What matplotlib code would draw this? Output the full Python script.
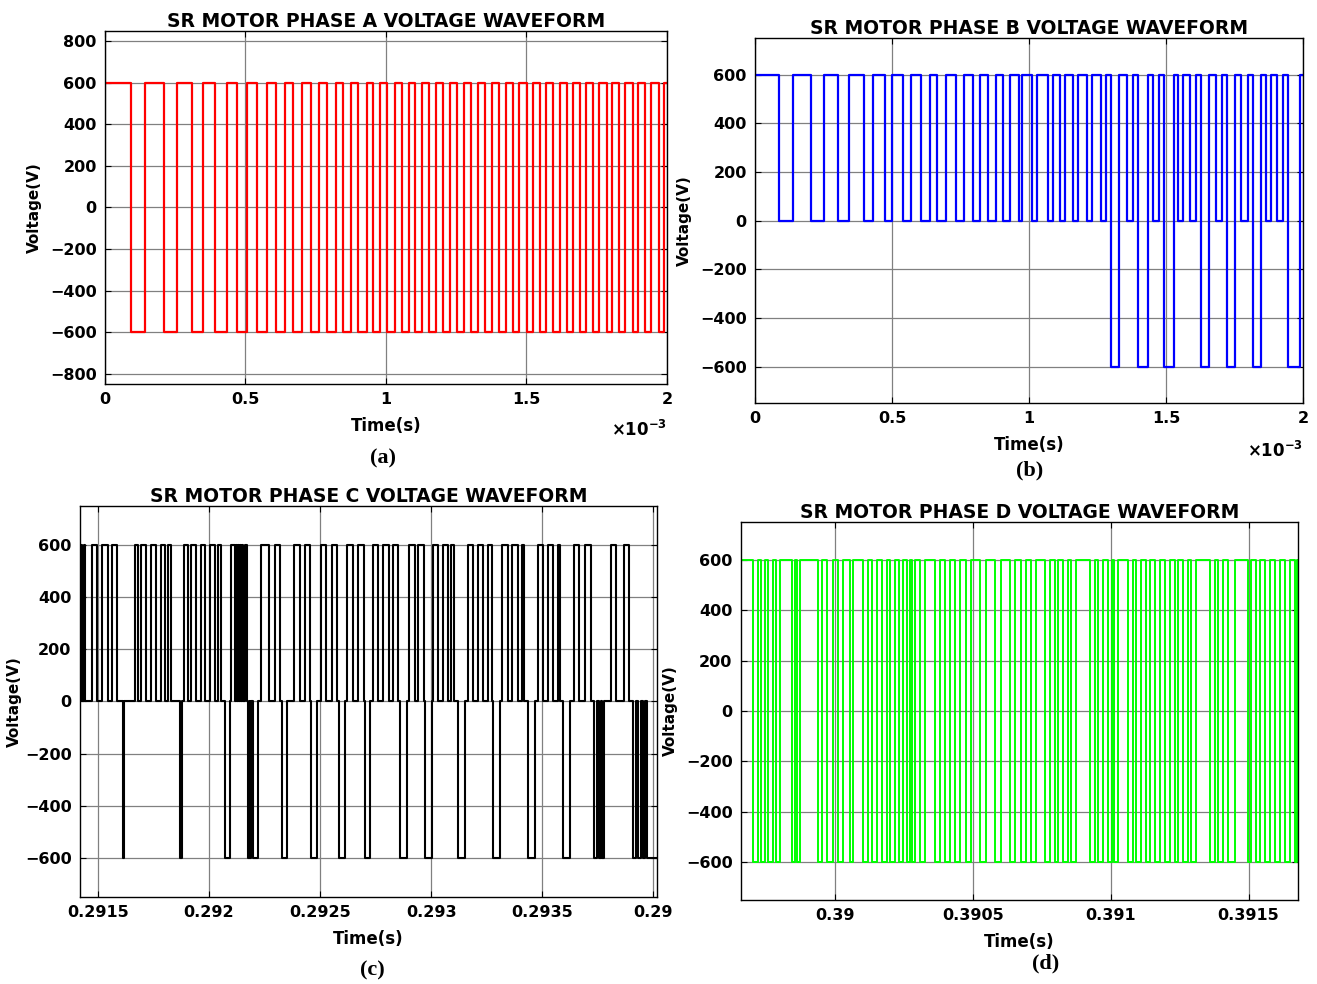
import numpy as np
import matplotlib
matplotlib.use("Agg")
import matplotlib.pyplot as plt

plt.rcParams["font.family"] = "DejaVu Sans"
plt.rcParams["font.weight"] = "bold"

# phase A: bipolar +/-600 V chopping, switching instants in ms
a_fall_ms = [0.093, 0.210, 0.308, 0.391, 0.469, 0.540, 0.607, 0.670, 0.732, 0.789, 0.848, 0.901,
             0.955, 1.004, 1.058, 1.105, 1.153, 1.202, 1.252, 1.302, 1.352, 1.402, 1.451, 1.501,
             1.549, 1.596, 1.644, 1.691, 1.738, 1.786, 1.831, 1.878, 1.923, 1.971]
a_rise_ms = [0.142, 0.255, 0.350, 0.433, 0.504, 0.575, 0.641, 0.702, 0.762, 0.821, 0.874, 0.931,
             0.978, 1.032, 1.081, 1.129, 1.179, 1.228, 1.278, 1.328, 1.378, 1.428, 1.475, 1.523,
             1.570, 1.618, 1.665, 1.712, 1.760, 1.805, 1.852, 1.897, 1.945, 1.990]

# phase B: switching instants in ms and the voltage held after each one
b_time_ms = [0, 0.089, 0.138, 0.206, 0.252, 0.304, 0.343, 0.399, 0.431, 0.474,
             0.500, 0.539, 0.569, 0.607, 0.637, 0.663, 0.696, 0.732, 0.761, 0.794,
             0.820, 0.852, 0.879, 0.905, 0.931, 0.963, 0.976, 1.009, 1.029, 1.068,
             1.087, 1.114, 1.133, 1.162, 1.179, 1.211, 1.231, 1.264, 1.280, 1.299,
             1.329, 1.357, 1.378, 1.396, 1.433, 1.454, 1.476, 1.494, 1.530, 1.545,
             1.563, 1.588, 1.610, 1.626, 1.655, 1.683, 1.704, 1.722, 1.752, 1.772,
             1.799, 1.817, 1.848, 1.866, 1.884, 1.906, 1.927, 1.945, 1.988]
b_volt = [600, 0, 600, 0, 600, 0, 600, 0, 600, 0,
          600, 0, 600, 0, 600, 0, 600, 0, 600, 0,
          600, 0, 600, 0, 600, 0, 600, 0, 600, 0,
          600, 0, 600, 0, 600, 0, 600, 0, 600, -600,
          600, 0, 600, -600, 600, 0, 600, -600, 600, 0,
          600, 0, 600, -600, 600, 0, 600, -600, 600, 0,
          600, -600, 600, 0, 600, 0, 600, -600, 600]

# phase C: switching instants in microseconds after t = 0.2915 s
c_time_us = [-81, -72, -64.5, -57, -27, -4.5, 18, 45, 64.5, 87,
             112.5, 117, 165, 180, 195, 217.5, 237, 262.5, 282, 303,
             315, 330, 367.5, 378, 387, 405, 420, 442.5, 462, 483,
             502.5, 525, 540, 555, 570, 594, 600, 615, 622.5, 627,
             631.5, 636, 640.5, 645, 649.5, 652.5, 660, 672, 675, 682.5,
             685.5, 690, 697.5, 720, 735, 768, 795, 817.5, 828, 852,
             882, 907.5, 930, 955.5, 960, 987, 1002, 1027.5, 1053, 1077,
             1084.5, 1110, 1122, 1147.5, 1170, 1197, 1203, 1224, 1239, 1261.5,
             1284, 1309.5, 1329, 1351.5, 1359, 1389, 1401, 1426.5, 1441.5, 1468.5,
             1471.5, 1501.5, 1509, 1531.5, 1554, 1576.5, 1588.5, 1603.5, 1621.5, 1651.5,
             1666.5, 1689, 1711.5, 1734, 1756.5, 1771.5, 1779, 1809, 1819.5, 1843.5,
             1864.5, 1888.5, 1906.5, 1918.5, 1936.5, 1966.5, 1981.5, 2004, 2026.5, 2049,
             2071.5, 2079, 2094, 2124, 2143.5, 2164.5, 2191.5, 2218.5, 2233.5, 2248.5,
             2254.5, 2266.5, 2269.5, 2278.5, 2311.5, 2334, 2368.5, 2389.5, 2409, 2424,
             2431.5, 2446.5, 2454, 2464.5, 2473.5]
c_volt = [600, 0, 600, 0, 600, 0, 600, 0, 600, 0,
          -600, 0, 600, 0, 600, 0, 600, 0, 600, 0,
          600, 0, -600, 0, 600, 0, 600, 0, 600, 0,
          600, 0, 600, 0, -600, 0, 600, 0, 600, 0,
          600, 0, 600, 0, 600, 0, 600, 0, -600, 0,
          -600, 0, -600, 0, 600, 0, 600, 0, -600, 0,
          600, 0, 600, 0, -600, 0, 600, 0, 600, 0,
          -600, 0, 600, 0, 600, 0, -600, 0, 600, 0,
          600, 0, 600, 0, -600, 0, 600, 0, 600, 0,
          -600, 0, 600, 0, 600, 0, 600, 0, -600, 0,
          600, 0, 600, 0, 600, 0, -600, 0, 600, 0,
          600, 0, 600, 0, -600, 0, 600, 0, 600, 0,
          600, 0, -600, 0, 600, 0, 600, 0, -600, 0,
          -600, 0, -600, 0, 600, 0, 600, 0, -600, 0,
          -600, 0, -600, 0, -600]

# phase D: bipolar chopping, instants in microseconds after t = 0.39 s
d_fall_us = [-301, -272, -244, -214, -159, -140, -62, -30, 10, 53, 101,
             131, 168, 198, 232, 259, 278, 307, 360, 397, 433, 475,
             524, 578, 633, 675, 711, 760, 796, 826, 856, 923,
             953, 989, 1013, 1062, 1092, 1129, 1159, 1195, 1232, 1262, 1292,
             1359, 1389, 1425, 1498, 1528, 1558, 1595, 1631, 1667]
d_rise_us = [-280, -256, -226, -202, -148, -129, -47, -10, 28, 65, 119,
             150, 186, 216, 246, 270, 289, 325, 378, 415, 451, 493,
             548, 602, 651, 693, 729, 778, 808, 844, 874, 941,
             971, 1004, 1026, 1080, 1110, 1141, 1177, 1213, 1244, 1280, 1310,
             1377, 1407, 1450, 1510, 1540, 1577, 1613, 1649, 1677]

a_xticks = [0, 0.5, 1, 1.5, 2]
a_xlabels = ["0", "0.5", "1", "1.5", "2"]
c_xticks = [0.2915, 0.292, 0.2925, 0.293, 0.2935, 0.294]
c_xlabels = ["0.2915", "0.292", "0.2925", "0.293", "0.2935", "0.29"]
d_xticks = [0.39, 0.3905, 0.391, 0.3915]
d_xlabels = ["0.39", "0.3905", "0.391", "0.3915"]


def bipolar(falls, rises, t0, t1, level=600):
    edges = sorted([(t, -level) for t in falls] + [(t, level) for t in rises])
    t = [t0] + [e[0] for e in edges] + [t1]
    v = [level] + [e[1] for e in edges] + [edges[-1][1]]
    return np.array(t), np.array(v)


def style(ax, title, xlim, ylim, yticks, xticks, xlabels):
    ax.set_xlim(xlim)
    ax.set_ylim(ylim)
    ax.set_yticks(yticks)
    ax.set_xticks(xticks)
    ax.set_xticklabels(xlabels)
    ax.grid(True, color="0.5", lw=0.9)
    ax.set_axisbelow(True)
    ax.tick_params(direction="in", top=True, right=True, labelsize=11.5, length=4, pad=6)
    for s in ax.spines.values():
        s.set_linewidth(1.0)
    ax.set_title(title, fontsize=13.5, fontweight="bold", pad=3)
    ax.set_xlabel("Time(s)", fontsize=12, fontweight="bold", labelpad=7)
    ax.set_ylabel("Voltage(V)", fontsize=11, fontweight="bold", labelpad=6)


fig = plt.figure(figsize=(13.17, 9.84), dpi=100)

# (a)
ax = fig.add_axes([0.0797, 0.6098, 0.4267, 0.3587])
t, v = bipolar(a_fall_ms, a_rise_ms, 0, 2.0)
ax.plot(t, v, drawstyle="steps-post", color="#ff0000", lw=1.6)
style(ax, "SR MOTOR PHASE A VOLTAGE WAVEFORM", (0, 2), (-850, 850),
      np.arange(-800, 801, 200), a_xticks, a_xlabels)
ax.text(1.0, -0.13, r"$\times\mathbf{10^{-3}}$", transform=ax.transAxes,
        ha="right", va="center", fontsize=12)
fig.text(0.291, 0.534, "(a)", family="Liberation Serif", fontweight="bold",
         fontsize=16, ha="center", va="center")

# (b)
ax = fig.add_axes([0.5733, 0.5904, 0.4161, 0.3709])
t = np.array(b_time_ms + [2.0])
v = np.array(b_volt + [b_volt[-1]])
ax.plot(t, v, drawstyle="steps-post", color="#0000ff", lw=1.6)
style(ax, "SR MOTOR PHASE B VOLTAGE WAVEFORM", (0, 2), (-750, 750),
      np.arange(-600, 601, 200), a_xticks, a_xlabels)
ax.text(1.0, -0.13, r"$\times\mathbf{10^{-3}}$", transform=ax.transAxes,
        ha="right", va="center", fontsize=12)
fig.text(0.782, 0.522, "(b)", family="Liberation Serif", fontweight="bold",
         fontsize=16, ha="center", va="center")

# (c)
ax = fig.add_axes([0.0607, 0.0884, 0.4381, 0.3974])
t = 0.2915 + np.array(c_time_us + [2516]) * 1e-6
v = np.array(c_volt + [c_volt[-1]])
ax.plot(t, v, drawstyle="steps-post", color="black", lw=1.5)
style(ax, "SR MOTOR PHASE C VOLTAGE WAVEFORM", (0.2915 - 81e-6, 0.2915 + 2516e-6),
      (-750, 750), np.arange(-600, 601, 200), c_xticks, c_xlabels)
ax.yaxis.labelpad = 2
fig.text(0.283, 0.014, "(c)", family="Liberation Serif", fontweight="bold",
         fontsize=16, ha="center", va="center")

# (d)
ax = fig.add_axes([0.5626, 0.0854, 0.4229, 0.3841])
t, v = bipolar(d_fall_us, d_rise_us, -343, 1679)
ax.plot(0.39 + t * 1e-6, v, drawstyle="steps-post", color="#00ff00", lw=1.4)
style(ax, "SR MOTOR PHASE D VOLTAGE WAVEFORM", (0.39 - 343e-6, 0.39 + 1679e-6),
      (-750, 750), np.arange(-600, 601, 200), d_xticks, d_xlabels)
fig.text(0.794, 0.021, "(d)", family="Liberation Serif", fontweight="bold",
         fontsize=16, ha="center", va="center")

fig.savefig("out.png", dpi=100, facecolor="white")
